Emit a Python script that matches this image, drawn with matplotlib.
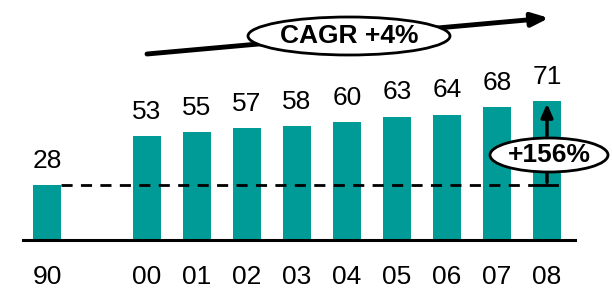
import matplotlib
matplotlib.use("Agg")
import matplotlib.pyplot as plt
from matplotlib.patches import Ellipse

categories = ["90", "00", "01", "02", "03", "04", "05", "06", "07", "08"]
positions = [0, 2, 3, 4, 5, 6, 7, 8, 9, 10]
values = [28, 53, 55, 57, 58, 60, 63, 64, 68, 71]
cagr_text = "CAGR +4%"
growth_text = "+156%"

plt.rcParams['font.family'] = ['Liberation Sans', 'DejaVu Sans']
teal = "#009B96"
fs = 19

fig = plt.figure(figsize=(6.12, 2.92), dpi=100)
ax = fig.add_axes([0, 0, 1, 1])
# pixel mapping: x_px = 47 + 50*pos, y_px = 240 - 1.96*v
ax.set_xlim(-47 / 50, (612 - 47) / 50)
ax.set_ylim(-(292 - 240) / 1.96, 240 / 1.96)
ax.axis("off")

bw = 28 / 50
ax.bar(positions, values, width=bw, color=teal, zorder=2)

for p, v in zip(positions, values):
    ax.text(p, v + 6.2, str(v), ha="center", va="bottom", fontsize=fs, color="black")
for p, c in zip(positions, categories):
    ax.text(p, -19, c, ha="center", va="center", fontsize=fs, color="black")

# baseline
ax.plot([(23 - 47) / 50, (575 - 47) / 50], [0, 0], color="black", lw=2.2, zorder=3)

# dashed reference line at 1990 level
x_end = positions[-1]
ax.plot([positions[0] + bw / 2, x_end - 0.2], [values[0], values[0]], color="black",
        lw=2, ls=(0, (4, 3)), zorder=3)
ax.plot([x_end - 0.2, x_end + 0.2], [values[0], values[0]], color="black", lw=2, zorder=3)

# vertical growth arrow
ax.annotate("", xy=(x_end, values[-1]), xytext=(x_end, values[0]),
            arrowprops=dict(arrowstyle="-|>,head_width=0.35,head_length=0.8",
                            color="black", lw=2.5), zorder=4)
ell2 = Ellipse((x_end + 0.04, (240 - 155) / 1.96), 118 / 50, 34 / 1.96,
               facecolor="white", edgecolor="black", lw=2, zorder=5)
ax.add_patch(ell2)
ax.text(x_end + 0.04, (240 - 155) / 1.96, growth_text, ha="center", va="center",
        fontsize=fs, fontweight="bold", zorder=6)

# CAGR arrow
x0, y0 = (147 - 47) / 50, (240 - 54) / 1.96
x1, y1 = (549 - 47) / 50, (240 - 18) / 1.96
ax.annotate("", xy=(x1, y1), xytext=(x0, y0),
            arrowprops=dict(arrowstyle="-|>,head_width=0.4,head_length=1.0",
                            color="black", lw=3.5, shrinkA=0, shrinkB=0), zorder=4)
cx, cy = (349 - 47) / 50, (240 - 36) / 1.96
ell = Ellipse((cx, cy), 202 / 50, 38 / 1.96, facecolor="white", edgecolor="black",
              lw=2, zorder=5)
ax.add_patch(ell)
ax.text(cx, cy, cagr_text, ha="center", va="center", fontsize=fs,
        fontweight="bold", zorder=6)

fig.savefig("out.png", dpi=100)
